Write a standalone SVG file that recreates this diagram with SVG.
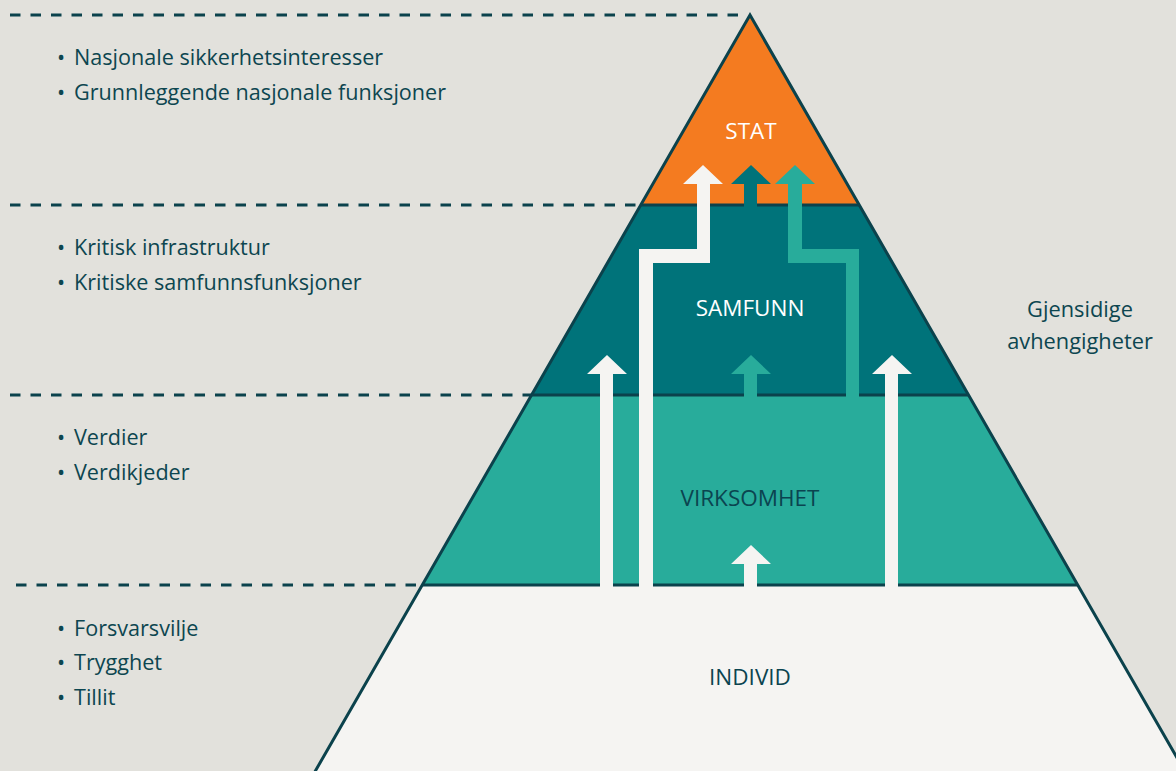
<svg xmlns="http://www.w3.org/2000/svg" width="1176" height="771" viewBox="0 0 1176 771">
<style>
.dash{stroke:#0B424C;stroke-width:3;stroke-dasharray:10.5 10;fill:none}
.bound{stroke:#0B424C;stroke-width:3;fill:none}
.lbl{font-family:"Open Sans","Liberation Sans",sans-serif;font-size:21.6px;fill:#0D4650}
.mid{font-family:"Open Sans","Liberation Sans",sans-serif;font-size:22.5px;text-anchor:middle}
.side{font-size:21.8px}
</style>
<rect width="1176" height="771" fill="#E2E1DC"/>
<g id="guides">
<line class="dash" x1="10" y1="15" x2="748" y2="15"/>
<line class="dash" x1="10" y1="205" x2="640" y2="205"/>
<line class="dash" x1="10" y1="395" x2="531" y2="395"/>
<line class="dash" x1="16" y1="585" x2="422" y2="585"/>
</g>
<g id="layer-individ"><polygon points="422.25,585 1077.75,585 1195.6,790 304.4,790" fill="#F5F4F2"/></g>
<g id="layer-virksomhet"><polygon points="531.5,395 968.5,395 1077.75,585 422.25,585" fill="#28AC9B"/></g>
<g id="layer-samfunn"><polygon points="640.75,205 859.25,205 968.5,395 531.5,395" fill="#00737A"/></g>
<g id="layer-stat"><polygon points="750,15 859.25,205 640.75,205" fill="#F47B20"/></g>
<g id="outline">
<polyline class="bound" points="304.4,790 750,15 1195.6,790" stroke-linejoin="miter"/>
<line class="bound" x1="640.75" y1="205" x2="859.25" y2="205"/>
<line class="bound" x1="531.5" y1="395" x2="968.5" y2="395"/>
<line class="bound" x1="422.25" y1="585" x2="1077.75" y2="585"/>
</g>
<g id="connectors">
<polygon points="639,588 653,588 653,263 710,263 710,184 723,184 703,165 683,184 697,184 697,249 639,249" fill="#F5F4F2"/>
<polygon points="744,210 757,210 757,184 771,184 751,165 731,184 744,184" fill="#00737A"/>
<polygon points="846,398 859,398 859,249 802,249 802,184 815,184 795,165 775,184 788,184 788,263 846,263" fill="#28AC9B"/>
<polygon points="600,588 613,588 613,374 627,374 607,355 587,374 600,374" fill="#F5F4F2"/>
<polygon points="744,398 757,398 757,374 771,374 751,355 731,374 744,374" fill="#28AC9B"/>
<polygon points="885,588 898,588 898,374 912,374 892,355 872,374 885,374" fill="#F5F4F2"/>
<polygon points="744,588 757,588 757,564 771,564 751,545 731,564 744,564" fill="#F5F4F2"/>
</g>
<g id="label-stat"><text class="mid" x="751" y="139" fill="#FFFFFF">STAT</text></g>
<g id="label-samfunn"><text class="mid" x="750" y="316" fill="#FFFFFF">SAMFUNN</text></g>
<g id="label-virksomhet"><text class="mid" x="750" y="506" fill="#0B4450">VIRKSOMHET</text></g>
<g id="label-individ"><text class="mid" x="750" y="685" fill="#0B4450">INDIVID</text></g>
<g id="label-gjensidige">
<text class="mid side" x="1080" y="317" fill="#0D4650">Gjensidige</text>
<text class="mid side" x="1080" y="349" fill="#0D4650">avhengigheter</text>
</g>
<g id="list-stat">
<text class="lbl" x="57" y="65">•</text><text class="lbl" x="74" y="65">Nasjonale sikkerhetsinteresser</text>
<text class="lbl" x="57" y="100">•</text><text class="lbl" x="74" y="100">Grunnleggende nasjonale funksjoner</text>
</g>
<g id="list-samfunn">
<text class="lbl" x="57" y="255">•</text><text class="lbl" x="74" y="255">Kritisk infrastruktur</text>
<text class="lbl" x="57" y="290">•</text><text class="lbl" x="74" y="290">Kritiske samfunnsfunksjoner</text>
</g>
<g id="list-virksomhet">
<text class="lbl" x="57" y="445">•</text><text class="lbl" x="74" y="445">Verdier</text>
<text class="lbl" x="57" y="480">•</text><text class="lbl" x="74" y="480">Verdikjeder</text>
</g>
<g id="list-individ">
<text class="lbl" x="57" y="636">•</text><text class="lbl" x="74" y="636">Forsvarsvilje</text>
<text class="lbl" x="57" y="670">•</text><text class="lbl" x="74" y="670">Trygghet</text>
<text class="lbl" x="57" y="705">•</text><text class="lbl" x="74" y="705">Tillit</text>
</g>
</svg>
